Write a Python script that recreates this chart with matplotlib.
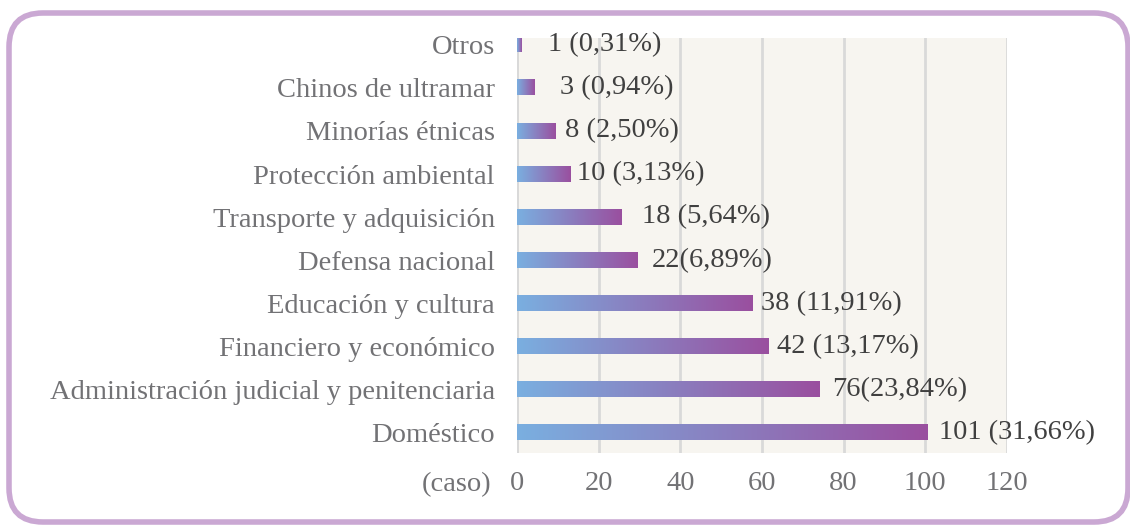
import numpy as np
import matplotlib.pyplot as plt
from matplotlib.colors import LinearSegmentedColormap
from matplotlib.patches import FancyBboxPatch

# categories from bottom to top
categories = ["Doméstico", "Administración judicial y penitenciaria",
              "Financiero y económico", "Educación y cultura",
              "Defensa nacional", "Transporte y adquisición",
              "Protección ambiental", "Minorías étnicas",
              "Chinos de ultramar", "Otros"]
# bar lengths as drawn in the picture
bar_lengths = [100.6, 74.2, 61.5, 57.7, 29.5, 25.5, 13.0, 9.5, 4.2, 1.2]
value_labels = ["101 (31,66%)", "76(23,84%)", "42 (13,17%)", "38 (11,91%)",
                "22(6,89%)", "18 (5,64%)", "10 (3,13%)", "8 (2,50%)",
                "3 (0,94%)", "1 (0,31%)"]
xticks = [0, 20, 40, 60, 80, 100, 120]

# extra gap (px) between bar end and its label
label_gaps = [11, 12, 9, 8, 14, 21, 7, 9, 26, 26]

plt.rcParams['font.family'] = ['Liberation Serif', 'DejaVu Serif']
fs = 20.5

fig = plt.figure(figsize=(11.3, 5.25), dpi=100)
ax = fig.add_axes([517/1130, 1 - 453/525, 490/1130, 415/525])
ax.set_facecolor("#f7f5f0")

cmap = LinearSegmentedColormap.from_list("bar", ["#7aafe0", "#9a4f9f"])
grad = np.linspace(0, 1, 256).reshape(1, -1)
h = 0.35
y = np.arange(len(categories))

for yi, v in zip(y, bar_lengths):
    ax.imshow(grad, cmap=cmap, aspect="auto", extent=[0, v, yi - h/2, yi + h/2],
              zorder=3, interpolation="bicubic")

px = 120 / 490
for yi, v, lab, g in zip(y, bar_lengths, value_labels, label_gaps):
    ax.text(v + g * px, yi, lab, va="center", ha="left", fontsize=fs,
            color="#404040", zorder=4)

ax.set_xlim(0, 120)
ax.set_ylim(-0.48, 9.16)
ax.set_xticks(xticks)
ax.set_yticks(y)
ax.set_yticklabels(categories)
ax.xaxis.grid(True, color="#d9d9d9", linewidth=2, zorder=1)
ax.set_axisbelow(True)
for s in ax.spines.values():
    s.set_visible(False)
ax.axvline(0, color="#d9d9d9", linewidth=2, zorder=2)
ax.tick_params(axis="both", length=0, labelsize=fs, labelcolor="#727275")
ax.tick_params(axis="y", pad=16)
ax.tick_params(axis="x", pad=13)

ax.annotate("(caso)", xy=(0, 0), xycoords="axes fraction",
            xytext=(-26 * 0.72, -32 * 0.72), textcoords="offset points",
            ha="right", va="center", fontsize=fs, color="#727275")

border = FancyBboxPatch((9/1130, 3/525), 1119/1130, 509/525,
                        boxstyle="round,pad=0,rounding_size=0.03",
                        transform=fig.transFigure, fill=False,
                        edgecolor="#caa8d3", linewidth=4,
                        mutation_aspect=1130/525)
fig.patches.append(border)

fig.savefig("out.png", dpi=100)
